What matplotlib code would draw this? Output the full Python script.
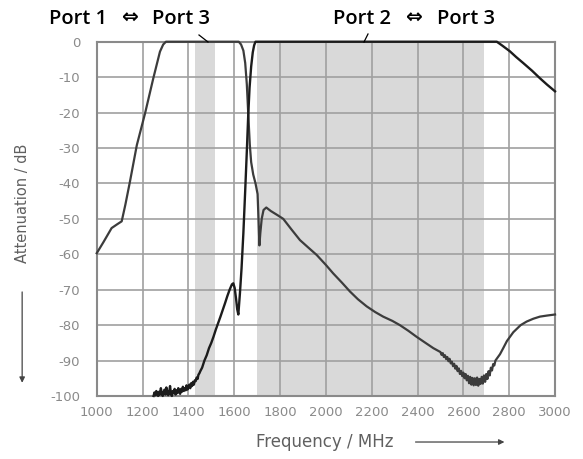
import matplotlib.pyplot as plt
import numpy as np

plt.rcParams['axes.unicode_minus'] = False
plt.rcParams['font.family'] = ['DejaVu Sans']

# Port 1 <-> Port 3 (low band path)
p13_freq = [1000, 1030, 1065, 1090, 1109, 1125, 1145, 1175, 1211, 1247, 1276, 1290, 1302,
            1620, 1630, 1640, 1648, 1655, 1661, 1668, 1674, 1683, 1693, 1702, 1706, 1710,
            1714, 1720, 1728, 1740, 1760, 1790, 1814, 1850, 1887, 1925, 1960, 2000, 2032,
            2070, 2105, 2140, 2178, 2215, 2250, 2290, 2323, 2360, 2396, 2430, 2469]
p13_db = [-59.7, -56.5, -52.6, -51.5, -50.7, -46, -39.5, -29.2, -20.2, -10.3, -2.8, -0.8, 0,
          0, -0.8, -2.5, -6, -12, -20, -29, -34, -37.5, -40, -43, -50, -57.5,
          -54, -50, -47.5, -46.8, -47.8, -49, -50, -53, -56, -58.2, -60.2, -63, -65.4,
          -68, -70.5, -72.7, -74.7, -76.3, -77.6, -78.8, -80, -81.6, -83.3, -84.8, -86.5]
# noisy stretch near 2600 MHz
p13_noise_db = [-87.6, -88.4, -87.9, -89.0, -88.5, -89.6, -89.0, -90.2, -89.5, -90.8,
                -90.3, -91.6, -90.9, -92.3, -91.5, -93.0, -92.2, -93.8, -92.9, -94.4,
                -93.4, -95.0, -93.8, -95.6, -94.3, -96.4, -94.6, -96.8, -94.9, -97.0,
                -95.0, -96.9, -94.8, -97.1, -95.2, -96.6, -94.6, -96.5, -94.2, -96.0,
                -93.8, -95.2, -93.0, -94.2, -92.0, -92.8, -91.0, -91.4, -90.0]
p13_tail_freq = [2760, 2774, 2790, 2818, 2850, 2876, 2905, 2934, 2965, 3000]
p13_tail_db = [-88.2, -86.5, -84.5, -82, -80, -79, -78.2, -77.6, -77.3, -77]

# Port 2 <-> Port 3 (high band path)
p23_noise_db = [-100, -99, -99.8, -98.6, -99.5, -100, -98.8, -99.6, -97.8, -99.2,
                -100, -99, -98.2, -99.6, -97.6, -98.8, -99.8, -99, -97.2, -99.4,
                -100, -98.6, -99.2, -98, -99.6, -98.4, -99.2, -97.8, -98.8, -99.4,
                -98, -98.8, -97.4, -98.6, -97.8, -98.4, -97, -98.2, -97.4, -96.8,
                -97.8, -96.4, -97.2, -96, -96.8, -95.6, -95.8, -94.8, -95.2, -94,
                -93.6, -93]
p23_freq = [1460, 1470, 1480, 1490, 1500, 1510, 1520, 1530, 1540, 1550, 1560, 1570, 1580,
            1590, 1596, 1602, 1608, 1613, 1618, 1625, 1632, 1640, 1648, 1655, 1661, 1667,
            1674, 1681, 1687, 1693, 2746, 2770, 2803, 2830, 2861, 2900, 2934, 2965, 3000]
p23_db = [-92, -90, -88.5, -86.5, -85, -83.2, -81.2, -79.4, -77.6, -75.7, -73.8, -71.8, -70,
          -68.5, -68.2, -69.5, -72.5, -75.5, -77, -71, -64, -54, -42, -31, -21, -13,
          -7, -3, -1, 0, 0, -1.1, -2.7, -4.3, -6, -8.2, -10.3, -12.1, -14]

bands = [(1427, 1518), (1700, 2690)]
x_ticks = [1000, 1200, 1400, 1600, 1800, 2000, 2200, 2400, 2600, 2800, 3000]
y_ticks = [0, -10, -20, -30, -40, -50, -60, -70, -80, -90, -100]

f13 = np.concatenate([p13_freq, np.arange(2500, 2741, 5), p13_tail_freq])
a13 = np.concatenate([p13_db, p13_noise_db, p13_tail_db])
f23 = np.concatenate([np.arange(1248, 1453, 4), p23_freq])
a23 = np.concatenate([p23_noise_db, p23_db])

fig = plt.figure(figsize=(5.83, 4.59), dpi=100)
ax = fig.add_axes([0.1659, 0.1373, 0.7861, 0.7718])

for lo, hi in bands:
    ax.axvspan(lo, hi, color='#d9d9d9', zorder=0.1, lw=0)

ax.set_axisbelow(True)
ax.grid(True, color='#a0a0a0', lw=1.2)

ax.plot(f13, a13, color='#3c3c3c', lw=1.6, clip_on=False, zorder=3)
ax.plot(f23, a23, color='#1c1c1c', lw=1.7, clip_on=False, zorder=3)

ax.set_xlim(1000, 3000)
ax.set_ylim(-100, 0)
ax.set_xticks(x_ticks)
ax.set_yticks(y_ticks)
ax.tick_params(length=0, labelsize=9.5, labelcolor='#8a8a8a')
ax.tick_params(axis='x', pad=7)
ax.tick_params(axis='y', pad=12)
for s in ax.spines.values():
    s.set_color('#8a8a8a')
    s.set_linewidth(1.5)

# axis labels with arrows
fig.text(0.038, 0.558, 'Attenuation / dB', rotation=90, ha='center', va='center',
         fontsize=10.5, color='#606060')
ax.annotate('', xy=(0.038, 0.160), xycoords='figure fraction',
            xytext=(0.038, 0.370), textcoords='figure fraction',
            arrowprops=dict(arrowstyle='-|>', color='#444444', lw=0.9, mutation_scale=8))
fig.text(0.557, 0.037, 'Frequency / MHz', ha='center', va='center',
         fontsize=12, color='#606060')
ax.annotate('', xy=(0.870, 0.037), xycoords='figure fraction',
            xytext=(0.708, 0.037), textcoords='figure fraction',
            arrowprops=dict(arrowstyle='-|>', color='#444444', lw=0.9, mutation_scale=8))

# band captions
cap = dict(va='center', ha='center', fontsize=14.5, weight='semibold',
           family=['Open Sans', 'DejaVu Sans'], color='black')
fig.text(78 / 583, 0.958, 'Port 1', **cap)
fig.text(129 / 583, 0.958, '\u21d4', **cap)
fig.text(181 / 583, 0.958, 'Port 3', **cap)
fig.text(362 / 583, 0.958, 'Port 2', **cap)
fig.text(413 / 583, 0.958, '\u21d4', **cap)
fig.text(466 / 583, 0.958, 'Port 3', **cap)
fig.add_artist(plt.Line2D([199 / 583, 208 / 583], [1 - 35 / 459, 1 - 42 / 459],
                          color='black', lw=0.9))
fig.add_artist(plt.Line2D([368 / 583, 364 / 583], [1 - 34 / 459, 1 - 42 / 459],
                          color='black', lw=0.9))

fig.savefig('out.png', dpi=100)
